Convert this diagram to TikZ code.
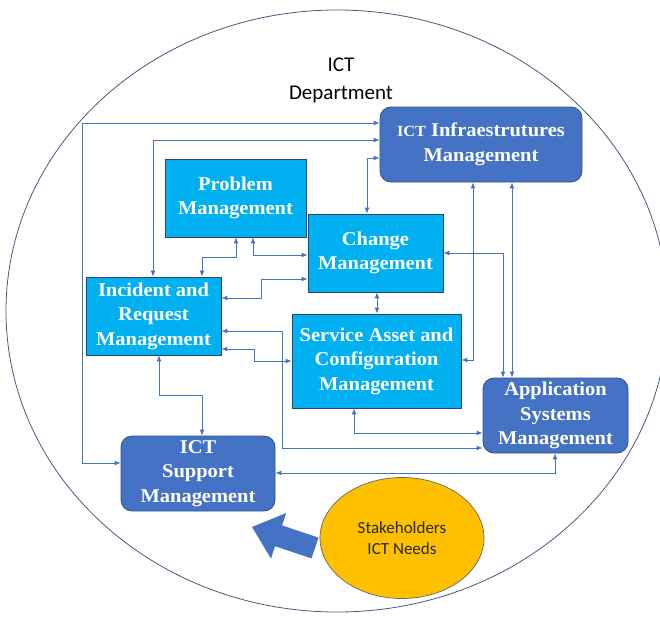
\documentclass[tikz,border=0pt]{standalone}
\usepackage{fontspec}
\setmainfont{Liberation Serif}
\newfontfamily\boxfont{Liberation Serif Bold}[FakeStretch=1.05]
\newfontfamily\calfont{Carlito}
\usetikzlibrary{arrows.meta,calc,shapes.geometric}
\definecolor{darkbox}{HTML}{4472C4}
\definecolor{lightbox}{HTML}{00B0F0}
\definecolor{conn}{HTML}{4472C4}
\definecolor{circline}{HTML}{4A5A7E}
\definecolor{yell}{HTML}{FFC000}
\tikzset{
  boxtext/.style={text=white,font=\boxfont\fontsize{19.5}{24.5}\selectfont,align=center,inner sep=0pt},
  darknode/.style={boxtext,fill=darkbox,draw=darkbox!70!black,line width=0.8pt,rounded corners=11pt},
  lightnode/.style={boxtext,fill=lightbox,draw=darkbox!60!black,line width=0.8pt},
  con/.style={draw=conn,line width=0.9pt,{Latex[length=6pt,width=5pt]}-{Latex[length=6pt,width=5pt]}},
}
\begin{document}
\begin{tikzpicture}[x=1pt,y=-1pt]
\useasboundingbox (0,0) rectangle (660,616);
% department outline
\draw[circline,line width=0.8pt] (337,311) ellipse [x radius=331pt,y radius=301pt];
\node[font=\calfont\fontsize{21}{28}\selectfont,align=center] (dept) at (341,80) {ICT\\Department};

% boxes
\node[darknode,minimum width=202pt,minimum height=75pt] (infra) at (481,144.5)
  {{\fontsize{15.5}{15.5}\selectfont ICT} Infraestrutures\\Management};
\node[lightnode,minimum width=141pt,minimum height=78pt] (problem) at (235.5,198) {Problem\\Management};
\node[lightnode,minimum width=135pt,minimum height=78pt] (change) at (375.5,253) {Change\\Management};
\node[lightnode,minimum width=135pt,minimum height=78pt] (incident) at (153.5,316) {Incident and\\Request\\Management};
\node[lightnode,minimum width=169pt,minimum height=94pt] (service) at (376.5,361) {Service Asset and\\Configuration\\Management};
\node[darknode,minimum width=145pt,minimum height=75pt] (app) at (555.5,415.5) {Application\\Systems\\Management};
\node[darknode,minimum width=154pt,minimum height=75pt] (support) at (198,473.5) {ICT\\Support\\Management};
\node[ellipse,fill=yell,draw=black!60,line width=0.7pt,minimum width=164pt,minimum height=121pt,inner sep=0pt,
  text=black!85,font=\calfont\fontsize{17}{21}\selectfont,align=center] (stake) at (402,538) {Stakeholders\\ICT Needs};

% connectors
\coordinate (k1a) at (82,123);
\coordinate (k1b) at (82,463);
\draw[con] (infra.west |- 0,123) -- (k1a) -- (k1b) -- (support.west |- 0,463);
\draw[con] (incident.north -| 153,0) |- (infra.west |- 0,140);
\draw[con] (change.north -| 367,0) |- (infra.west |- 0,158);
\coordinate (k4) at (236,257);
\draw[con] (problem.south -| 236,0) -- (k4) -| (incident.north -| 202,0);
\draw[con] (problem.south -| 253,0) |- (change.west |- 0,255);
\coordinate (k6) at (261,298);
\draw[con] (incident.east |- 0,298) -- (k6) |- (change.west |- 0,279);
\draw[con] (change.south -| 377,0) -- (service.north -| 377,0);
\coordinate (k8) at (282,331);
\draw[con] (incident.east |- 0,331) -- (k8) |- (app.west |- 0,448);
\coordinate (k9) at (254,349);
\draw[con] (incident.east |- 0,349) -- (k9) |- (service.west |- 0,361);
\draw[con] (service.south -| 354,0) |- (app.west |- 0,433);
\coordinate (k11) at (159,395);
\draw[con] (incident.south -| 159,0) -- (k11) -| (support.north -| 202,0);
\draw[con] (support.east |- 0,473) -| (app.south -| 555,0);
\draw[con] (infra.south -| 473,0) |- (service.east |- 0,360);
\draw[con] (infra.south -| 512,0) -- (app.north -| 512,0);
\draw[con] (change.east |- 0,253) -| (app.north -| 503,0);

% big block arrow from stakeholders to support
\fill[darkbox] (252,527) -- (286.2,513) -- (282,525.4) -- (318.5,537.6) -- (311.5,558.4) -- (275,546.2) -- (271,558.6) -- cycle;
\end{tikzpicture}
\end{document}
